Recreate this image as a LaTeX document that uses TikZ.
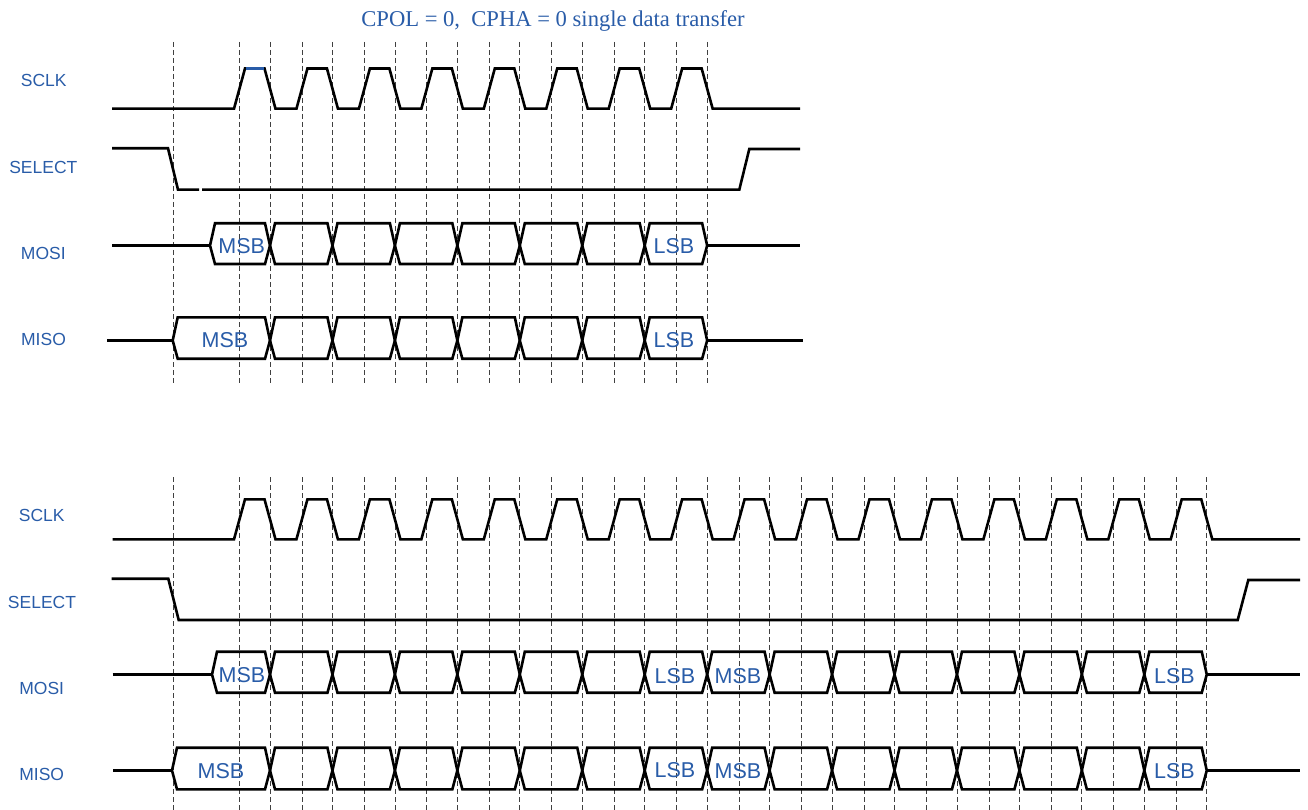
\documentclass[tikz,border=0pt]{standalone}
\usepackage{fontspec}
\setmainfont{Liberation Serif}
\newfontfamily\arialf{Liberation Sans}
\definecolor{sigblue}{RGB}{41,92,168}
\tikzset{
  sig/.style={line width=2.6pt, black},
  bus/.style={line width=2.6pt, black, line join=miter, miter limit=2},
  guide/.style={line width=0.8pt, black!75, dash pattern=on 5pt off 3pt},
  lbl/.style={font=\arialf\fontsize{17.5}{20}\selectfont, text=sigblue, inner sep=0pt, anchor=base},
  dat/.style={font=\arialf\fontsize{21.5}{24}\selectfont, text=sigblue, inner sep=0pt, anchor=base},
  ttl/.style={font=\fontsize{22.6}{26}\selectfont, text=sigblue, inner sep=0pt, anchor=base}
}
% #1 top y, #2 middle y, #3 bottom y, #4 start x, #5 index of last segment
\newcommand\busrow[5]{%
  \foreach \i in {0,...,#5}{%
    \pgfmathsetmacro\xa{\i==0 ? #4 : 270+62.45*(\i-1)}%
    \pgfmathsetmacro\xb{270+62.45*\i}%
    \draw[bus] (\xa,#2) -- (\xa+5,#1) -- (\xb-5,#1) -- (\xb,#2) -- (\xb-5,#3) -- (\xa+5,#3) -- cycle;
  }}
\begin{document}
\begin{tikzpicture}[x=1pt,y=-1pt]
\useasboundingbox (0,0) rectangle (1308,810);

% ---------- title ----------
\node[ttl] (title) at (553,26.5) {CPOL = 0,\ \ CPHA = 0 single data transfer};

% ---------- guides ----------
\draw[guide] (173,42) -- (173,385);
\foreach \k in {0,...,7}{
  \draw[guide] ({239.5+62.45*\k},42) -- ({239.5+62.45*\k},385);
  \draw[guide] ({270+62.45*\k},42) -- ({270+62.45*\k},385);
}
\draw[guide] (173,477) -- (173,810);
\foreach \k in {0,...,15}{
  \draw[guide] ({239.5+62.45*\k},477) -- ({239.5+62.45*\k},810);
  \draw[guide] ({270+62.45*\k},477) -- ({270+62.45*\k},810);
}

% ---------- labels ----------
\node[lbl] (sclkA) at (43.7,86.7) {SCLK};
\node[lbl] (selA) at (43.3,173.3) {SELECT};
\node[lbl] (mosiA) at (43.3,259.3) {MOSI};
\node[lbl] (misoA) at (43.5,345) {MISO};
\node[lbl] (sclkB) at (41.7,521.7) {SCLK};
\node[lbl] (selB) at (42,608.3) {SELECT};
\node[lbl] (mosiB) at (41.7,694.3) {MOSI};
\node[lbl] (misoB) at (41.7,780) {MISO};

% ---------- top: SCLK ----------
\draw[sig] (112,108.7)
  \foreach \k in {0,...,7}{
    -- ({239.5+62.45*\k-5.5},108.7) -- ({239.5+62.45*\k+5.5},68.5)
    -- ({270+62.45*\k-5.5},68.5) -- ({270+62.45*\k+5.5},108.7)
  } -- (800,108.7);
\draw[line width=2.6pt, sigblue] (246,68.5) -- (264,68.5);

% ---------- top: SELECT ----------
\draw[sig] (112,148.3) -- (168,148.3) -- (178,189.7) -- (199,189.7);
\draw[sig] (202,189.7) -- (739.3,189.7) -- (749.3,149) -- (800,149);

% ---------- top: MOSI ----------
\draw[sig] (112,245.5) -- (210,245.5);
\busrow{223.3}{245.5}{264}{210}{7}
\draw[sig] (707.15,245.5) -- (800,245.5);
\node[dat] (msbA1) at (241.7,253.3) {MSB};
\node[dat] (lsbA1) at (674,253.3) {LSB};

% ---------- top: MISO ----------
\draw[sig] (107,340.5) -- (172.7,340.5);
\busrow{317.3}{340.5}{358.7}{172.7}{7}
\draw[sig] (707.15,340.5) -- (803,340.5);
\node[dat] (msbA2) at (225,347.7) {MSB};
\node[dat] (lsbA2) at (674,347.3) {LSB};

% ---------- bottom: SCLK ----------
\draw[sig] (112.7,539.3)
  \foreach \k in {0,...,15}{
    -- ({239.5+62.45*\k-5.5},539.3) -- ({239.5+62.45*\k+5.5},499.3)
    -- ({270+62.45*\k-5.5},499.3) -- ({270+62.45*\k+5.5},539.3)
  } -- (1300,539.3);

% ---------- bottom: SELECT ----------
\draw[sig] (111.7,578.7) -- (168.3,578.7) -- (178.7,620) -- (1237.7,620) -- (1248.3,580) -- (1300,580);

% ---------- bottom: MOSI ----------
\draw[sig] (112.7,674.5) -- (212,674.5);
\busrow{651.7}{674.5}{692.7}{212}{15}
\draw[sig] (1206.75,674.5) -- (1300,674.5);
\node[dat] (msbB1) at (242,682.7) {MSB};
\node[dat] (lsbB1) at (675,683) {LSB};
\node[dat] (msbB2) at (738,683) {MSB};
\node[dat] (lsbB2) at (1174.5,683.3) {LSB};

% ---------- bottom: MISO ----------
\draw[sig] (113,770.5) -- (172,770.5);
\busrow{747.7}{770.5}{789.3}{172}{15}
\draw[sig] (1206.75,770.5) -- (1300,770.5);
\node[dat] (msbB3) at (221,778) {MSB};
\node[dat] (lsbB3) at (675,777.3) {LSB};
\node[dat] (msbB4) at (738,778) {MSB};
\node[dat] (lsbB4) at (1174.5,778.3) {LSB};
\end{tikzpicture}
\end{document}
